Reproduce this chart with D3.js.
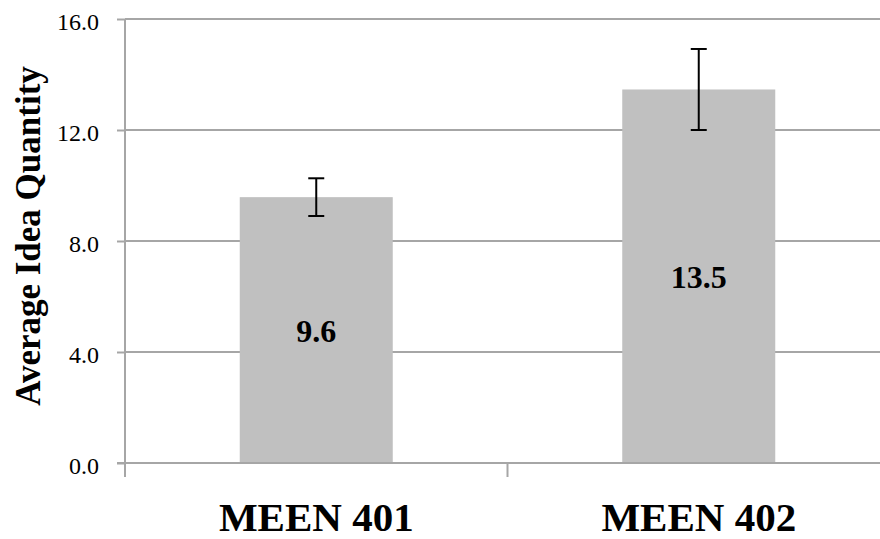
<!DOCTYPE html>
<html>
<head>
<meta charset="utf-8">
<script src="https://cdn.jsdelivr.net/npm/d3@7/dist/d3.min.js"></script>
<style>
  html, body { margin: 0; padding: 0; background: #fff; }
  svg { display: block; }
</style>
</head>
<body>
<svg id="chart" width="880" height="539"></svg>
<script>
const categories = ["MEEN 401", "MEEN 402"];
const values = [9.58, 13.46];
const errors = [0.68, 1.46];
const yTicks = [0, 4, 8, 12, 16];
const yTitle = "Average Idea Quantity";

(function () {
const svg = d3.select("#chart");
const mLeft = 125, mRight = 890, mTop = 19, mBottom = 463;

const y = d3.scaleLinear().domain([0, 16]).range([mBottom, mTop]);
const x = d3.scaleBand().domain(categories).range([mLeft, mRight])
  .paddingInner(0.6).paddingOuter(0.3);

const gridColor = "#a6a6a6";

// gridlines
svg.append("g").selectAll("line").data(yTicks.filter(d => d > 0)).join("line")
  .attr("x1", mLeft).attr("x2", mRight)
  .attr("y1", d => y(d)).attr("y2", d => y(d))
  .attr("stroke", gridColor).attr("stroke-width", 2);

// bars
svg.append("g").selectAll("rect").data(values).join("rect")
  .attr("x", (d, i) => x(categories[i]))
  .attr("width", x.bandwidth())
  .attr("y", d => y(d))
  .attr("height", d => y(0) - y(d))
  .attr("fill", "#c0c0c0");

// y axis
const yAxis = svg.append("g").attr("transform", `translate(${mLeft},0)`)
  .call(d3.axisLeft(y).tickValues(yTicks).tickFormat(d3.format(".1f")).tickSize(8).tickPadding(18));
yAxis.select(".domain").remove();
yAxis.selectAll(".tick line").attr("stroke", gridColor).attr("stroke-width", 2);
yAxis.selectAll(".tick text")
  .attr("font-family", "'Liberation Serif', serif")
  .attr("font-size", 24).attr("fill", "#000").attr("dy", "0.45em");

// y axis line
svg.append("line").attr("x1", mLeft).attr("x2", mLeft)
  .attr("y1", y(16)).attr("y2", y(0) + 14)
  .attr("stroke", gridColor).attr("stroke-width", 2);

// x axis line
svg.append("line").attr("x1", mLeft - 8).attr("x2", mRight)
  .attr("y1", y(0)).attr("y2", y(0))
  .attr("stroke", gridColor).attr("stroke-width", 2);

// x ticks at category boundaries
const stepAdj = (x.range()[1] - x.range()[0]) / categories.length;
svg.append("g").selectAll("line").data(d3.range(categories.length + 1)).join("line")
  .attr("x1", i => mLeft + i * stepAdj).attr("x2", i => mLeft + i * stepAdj)
  .attr("y1", y(0)).attr("y2", y(0) + 14)
  .attr("stroke", gridColor).attr("stroke-width", 2);

// x labels
svg.append("g").selectAll("text").data(categories).join("text")
  .attr("x", d => x(d) + x.bandwidth() / 2)
  .attr("y", 531)
  .attr("text-anchor", "middle")
  .attr("font-family", "'Liberation Serif', serif")
  .attr("font-weight", "bold")
  .attr("font-size", 41)
  .attr("fill", "#000")
  .text(d => d);

// error bars
const eb = svg.append("g").attr("stroke", "#000").attr("stroke-width", 2);
values.forEach((v, i) => {
  const cx = x(categories[i]) + x.bandwidth() / 2;
  const hi = y(v + errors[i]), lo = y(v - errors[i]);
  eb.append("line").attr("x1", cx).attr("x2", cx).attr("y1", hi).attr("y2", lo);
  eb.append("line").attr("x1", cx - 8).attr("x2", cx + 8).attr("y1", hi).attr("y2", hi);
  eb.append("line").attr("x1", cx - 8).attr("x2", cx + 8).attr("y1", lo).attr("y2", lo);
});

// data labels
svg.append("g").selectAll("text").data(values).join("text")
  .attr("x", (d, i) => x(categories[i]) + x.bandwidth() / 2)
  .attr("y", d => (y(d) + y(0)) / 2 + 12)
  .attr("text-anchor", "middle")
  .attr("font-family", "'Liberation Serif', serif")
  .attr("font-weight", "bold")
  .attr("font-size", 32)
  .attr("fill", "#000")
  .text(d => d3.format(".1f")(d));

// y title
svg.append("text")
  .attr("transform", `translate(40,${(mTop + mBottom) / 2 - 5}) rotate(-90)`)
  .attr("text-anchor", "middle")
  .attr("font-family", "'Liberation Serif', serif")
  .attr("font-weight", "bold")
  .attr("font-size", 35)
  .attr("fill", "#000")
  .text(yTitle);
})();
</script>
</body>
</html>
